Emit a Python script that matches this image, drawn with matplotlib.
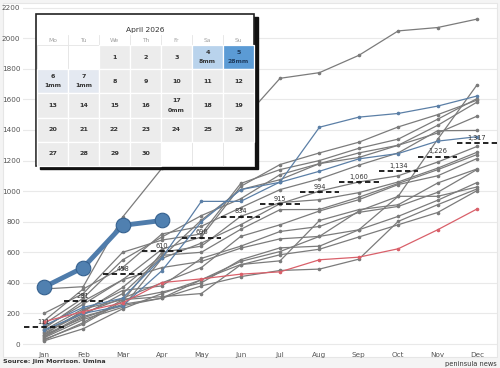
import matplotlib
matplotlib.use("Agg")
import matplotlib.pyplot as plt
from matplotlib.patches import Rectangle

months = ["Jan", "Feb", "Mar", "Apr", "May", "Jun", "Jul", "Aug", "Sep", "Oct", "Nov", "Dec"]

# cumulative rainfall (mm) of past years
gray_years = [
    [360, 375, 830, 1150, 1290, 1450, 1738, 1775, 1888, 2048, 2070, 2125],
    [60, 170, 260, 300, 420, 540, 605, 704, 870, 966, 1338, 1694],
    [200, 330, 600, 680, 720, 1050, 1141, 1200, 1280, 1340, 1470, 1605],
    [100, 280, 420, 620, 700, 1031, 1174, 1250, 1320, 1420, 1500, 1595],
    [50, 190, 330, 570, 810, 1010, 1075, 1180, 1250, 1300, 1430, 1582],
    [130, 300, 550, 700, 840, 950, 1108, 1180, 1220, 1300, 1380, 1490],
    [150, 360, 500, 720, 770, 892, 1010, 1080, 1170, 1250, 1395, 1397],
    [40, 160, 240, 560, 660, 780, 918, 1000, 1060, 1100, 1190, 1292],
    [30, 130, 280, 600, 640, 835, 925, 944, 990, 1060, 1150, 1254],
    [80, 210, 370, 580, 600, 750, 879, 880, 960, 1050, 1140, 1239],
    [70, 200, 300, 400, 500, 704, 780, 870, 944, 1043, 1100, 1213],
    [20, 100, 230, 330, 420, 520, 544, 808, 879, 911, 1053, 1145],
    [60, 220, 350, 380, 560, 640, 736, 769, 861, 900, 992, 1141],
    [110, 260, 420, 500, 540, 627, 688, 704, 747, 835, 940, 1056],
    [90, 230, 290, 340, 400, 551, 629, 640, 747, 966, 966, 1027],
    [45, 180, 250, 300, 380, 441, 481, 490, 555, 802, 911, 1014],
    [25, 140, 290, 310, 330, 518, 584, 620, 700, 780, 860, 1003],
]
blue_year_a = [120, 240, 300, 564, 933, 933, 1060, 1418, 1484, 1508, 1556, 1622]
blue_year_b = [90, 200, 250, 480, 800, 1010, 1058, 1130, 1211, 1246, 1327, 1356]
red_year = [146, 212, 269, 402, 426, 457, 472, 551, 568, 623, 747, 883]
this_year = [372, 500, 776, 808]
monthly_avg = [111, 281, 458, 610, 696, 834, 915, 994, 1060, 1134, 1226, 1317]

# calendar for the current month
cal_title = "April 2026"
weekdays = ["Mo", "Tu", "We", "Th", "Fr", "Sa", "Su"]
first_weekday = 2
days_in_month = 30
rain_days = {4: 8, 5: 28, 6: 1, 7: 1, 17: 0}

fig = plt.figure(figsize=(5, 3.68), dpi=100, facecolor="#f4f4f4")
fig.patches.append(Rectangle((3 / 500, 1 - 357 / 368), 494 / 500, 354 / 368,
                             transform=fig.transFigure, facecolor="white",
                             edgecolor="#e6e6e6", lw=0.8, zorder=-5))

ax = fig.add_axes([23 / 500, 1 - 346 / 368, 474 / 500, 342 / 368], facecolor="none")
x = list(range(12))

for ys in gray_years:
    ax.plot(x, ys, color="#7b7b7b", lw=0.9, marker="o", ms=1.6, zorder=2)
for ys in (blue_year_a, blue_year_b):
    ax.plot(x, ys, color="#5b7fa6", lw=0.9, marker="o", ms=1.6, zorder=3)
ax.plot(x, red_year, color="#d9606a", lw=0.9, marker="o", ms=1.6, zorder=3)

for i, v in enumerate(monthly_avg):
    ax.plot([i - 0.5, i + 0.5], [v, v], color="#111111", lw=1.3,
            dashes=(3, 1.8), zorder=4)
    ax.text(i, v + 14, f"{v:,}", ha="center", va="bottom", fontsize=4.8,
            color="#333333", zorder=5)

ax.plot(range(len(this_year)), this_year, color="#4f7cab", lw=3.5, marker="o",
        ms=10.5, mfc="#5080b0", mec="#35618f", mew=0.8, zorder=6)

ax.set_xlim(-0.53, 11.51)
ax.set_ylim(-13, 2224)
ax.set_xticks(x)
ax.set_xticklabels(months)
ax.set_yticks(range(0, 2201, 200))
ax.tick_params(length=0, labelsize=5.2, labelcolor="#555555", pad=2)
ax.tick_params(axis="x", pad=4)
ax.grid(axis="y", color="#e9e9e9", lw=0.8)
ax.set_axisbelow(True)
for s in ax.spines.values():
    s.set_visible(False)

# calendar overlay, drawn in pixel units
ov = fig.add_axes([0, 0, 1, 1], facecolor="none")
ov.set_xlim(0, 500)
ov.set_ylim(368, 0)
ov.axis("off")

bx, by, bw, bh = 36, 14, 218, 152
ov.add_patch(Rectangle((bx + 4, by + 3), bw, bh, color="#111111", zorder=1))
ov.add_patch(Rectangle((bx, by), bw, bh, facecolor="white", edgecolor="#222222",
                       lw=1.2, zorder=2))
ov.text(bx + bw / 2, 30, cal_title, ha="center", va="center", fontsize=5.4,
        color="#333333", zorder=5)

gx, gy, cw, ch = 37, 45, 31, 24.2
for c, wd in enumerate(weekdays):
    ov.text(gx + c * cw + cw / 2, 40, wd, ha="center", va="center", fontsize=4.3,
            color="#a0a0a0", zorder=5)
    if c > 0:
        ov.plot([gx + c * cw] * 2, [35, gy], color="#e4e4e4", lw=0.6, zorder=3)

for cell in range(35):
    r, c = divmod(cell, 7)
    ov.add_patch(Rectangle((gx + c * cw, gy + r * ch), cw, ch, facecolor="white",
                           edgecolor="#e4e4e4", lw=0.6, zorder=3))


def cell_color(mm):
    if mm is None or mm == 0:
        return "#ececec"
    if mm >= 20:
        return "#5b9bd5"
    if mm >= 5:
        return "#b9d3ec"
    return "#e4e9f1"


for d in range(1, days_in_month + 1):
    r, c = divmod(d - 1 + first_weekday, 7)
    x0, y0 = gx + c * cw, gy + r * ch
    mm = rain_days.get(d)
    ov.add_patch(Rectangle((x0, y0), cw, ch, facecolor=cell_color(mm),
                           edgecolor="white", lw=0.9, zorder=4))
    tc = "#1d3b5e" if mm is not None and mm >= 20 else "#333333"
    if mm is None:
        ov.text(x0 + cw / 2, y0 + ch / 2, str(d), ha="center", va="center",
                fontsize=4.6, fontweight="bold", color=tc, zorder=5)
    else:
        ov.text(x0 + cw / 2, y0 + ch / 2 - 4.5, str(d), ha="center", va="center",
                fontsize=4.6, fontweight="bold", color=tc, zorder=5)
        ov.text(x0 + cw / 2, y0 + ch / 2 + 4.5, f"{mm}mm", ha="center",
                va="center", fontsize=4.4, fontweight="bold", color=tc, zorder=5)

fig.text(3 / 500, 1 - 362 / 368, "Source: Jim Morrison. Umina", ha="left",
         va="center", fontsize=4.6, fontweight="semibold", color="#333333")
fig.text(497 / 500, 1 - 364 / 368, "peninsula news", ha="right", va="center",
         fontsize=4.8, color="#333333")

fig.savefig("out.png", dpi=100, facecolor=fig.get_facecolor())
